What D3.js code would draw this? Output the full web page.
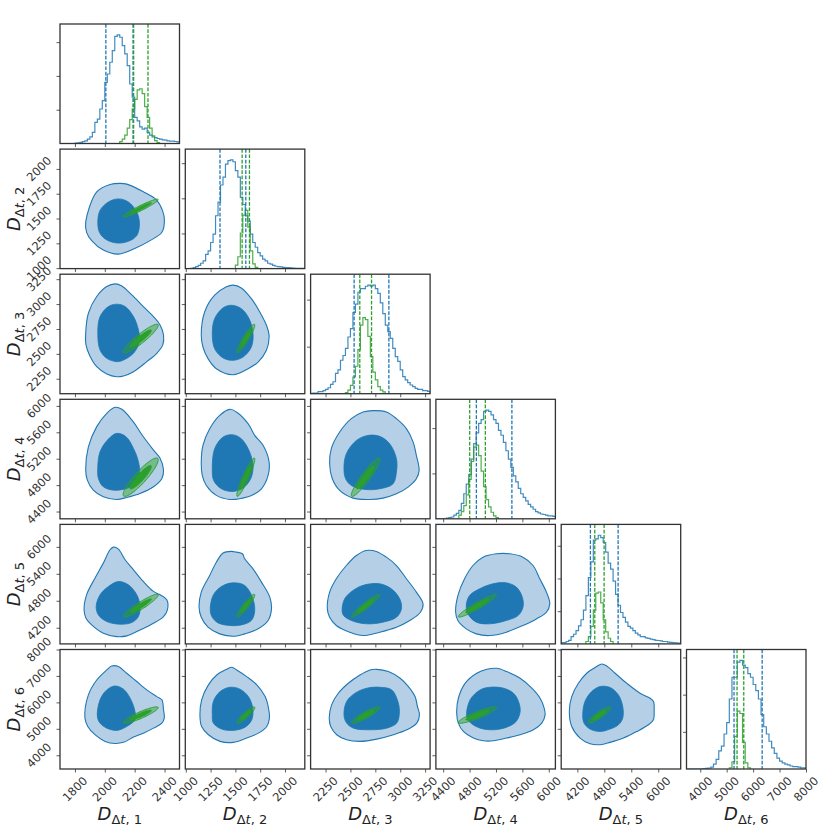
<!DOCTYPE html>
<html>
<head>
<meta charset="utf-8">
<script src="https://cdn.jsdelivr.net/npm/d3@7"></script>
<style>
  body { margin: 0; background: #fff; }
  svg text { font-family: "DejaVu Sans", sans-serif; }
</style>
</head>
<body>
<svg width="830" height="830"></svg>
<script>
// ---- data ----
const paramNames = ["1", "2", "3", "4", "5", "6"];
const domains = [[1700, 2500], [995, 2200], [2100, 3300], [4290, 6100], [3840, 6500], [3480, 8000]];
const tickValues = [
  [1800, 2000, 2200, 2400],
  [1000, 1250, 1500, 1750, 2000],
  [2250, 2500, 2750, 3000, 3250],
  [4400, 4800, 5200, 5600, 6000],
  [4200, 4800, 5400, 6000],
  [4000, 5000, 6000, 7000, 8000]
];

// 1D histograms (arbitrary count units)
const binStart = [1700, 1000, 2100, 4300, 3840, 3500];
const binWidth = [800 / 48, 25, 25, 37.5, 55, 100];
const histTickStep = [284, 296, 394, 380, 271, 308];
const blueHist = [
  [0,0,0,0,0,0,3,5,10,15,22,37,56,93,177,205,290,360,514,584,683,780,900,913,893,823,753,655,500,390,220,190,140,120,130,93,70,56,50,42,37,30,28,22,20,20,17,14],
  [0,0,3,8,17,28,45,65,120,150,220,290,445,560,704,770,880,910,915,900,825,770,600,540,445,400,290,220,180,135,107,80,65,45,37,28,20,17,14,11,8,8,6,5,3,3,3,3],
  [3,5,6,17,17,25,36,50,78,100,170,200,280,320,380,475,545,680,750,850,880,880,900,910,900,910,880,840,760,670,575,520,464,380,310,270,200,143,115,92,73,59,45,36,36,25,25,20],
  [0,0,0,0,5,10,15,30,45,70,130,210,290,370,500,630,720,800,830,900,910,900,870,830,800,740,700,640,570,500,430,360,310,255,210,180,150,120,100,80,60,50,40,36,30,25,25,20],
  [10,10,20,30,60,80,110,150,200,280,400,550,680,860,870,900,880,840,760,670,620,520,410,320,260,220,180,145,130,110,90,75,60,60,50,45,40,35,30,28,25,20,20,15,12,10,8,6],
  [0,0,0,0,0,0,3,5,8,15,40,80,150,190,290,385,580,760,760,885,900,860,840,790,760,700,650,580,450,350,290,230,175,130,90,65,50,40,35,25,20,20,15,10,10]
];
const greenFirstBin = [24, 20, 14, 9, 10, 16];
const greenHist = [
  [15,37,70,130,200,290,370,450,460,420,310,220,130,65,25,8],
  [30,100,300,450,490,350,150,40,10],
  [10,30,70,140,230,370,575,637,620,480,310,180,115,60,30,15],
  [30,60,110,200,330,480,600,617,530,400,270,160,100,55,25,10],
  [20,60,145,280,420,430,340,200,100,47,20],
  [10,60,270,480,460,220,50,10]
];

// 16% / 84% quantile lines
const blueQuantiles = [[2007, 2189], [1345, 1605], [2537, 2886], [4903, 5441], [4490, 5107], [5278, 6342]];
const greenQuantiles = [[2193, 2289], [1568, 1642], [2594, 2712], [4802, 5039], [4587, 4795], [5392, 5646]];

// green gaussian: means, sigmas, correlation (row i = y param, col j = x param)
const greenMu = [2240, 1605, 2653, 4920, 4690, 5520];
const greenSigma = [48, 37, 59, 119, 104, 127];
const greenRho = [
  [],
  [0.95],
  [0.92, 0.93],
  [0.90, 0.93, 0.93],
  [0.93, 0.93, 0.95, 0.95],
  [0.90, 0.90, 0.90, 0.90, 0.90]
];
const levels = [0.68, 0.95];

// blue 2D credible regions, key "yParam-xParam", points [x, y] in data units
const blueOuter = {
  "1-0": [[1872,1464],[1946,1769],[2035,1843],[2102,1854],[2147,1847],[2258,1769],[2348,1684],[2386,1582],[2399,1481],[2382,1361],[2303,1277],[2214,1208],[2091,1141],[1990,1182],[1912,1277],[1878,1361]],
  "2-0": [[1872,2707],[1890,2908],[1946,3076],[2013,3176],[2069,3203],[2114,3182],[2181,3092],[2258,2975],[2326,2874],[2370,2790],[2393,2690],[2388,2590],[2348,2506],[2281,2422],[2192,2321],[2125,2278],[2080,2270],[2013,2298],[1946,2371],[1897,2489],[1874,2590]],
  "3-0": [[1872,5028],[1890,5381],[1946,5686],[2013,5888],[2069,5979],[2114,5948],[2181,5787],[2258,5533],[2326,5331],[2370,5206],[2393,5028],[2382,4902],[2326,4775],[2236,4674],[2147,4614],[2080,4583],[1990,4623],[1923,4724],[1883,4876]],
  "4-0": [[1861,4598],[1878,4933],[1934,5303],[1990,5638],[2035,5936],[2058,5995],[2091,5949],[2136,5713],[2192,5489],[2258,5229],[2326,5008],[2370,4933],[2415,4822],[2419,4598],[2393,4449],[2326,4300],[2236,4151],[2147,4018],[2080,4002],[1990,4077],[1912,4263],[1874,4412]],
  "5-0": [[1867,5406],[1890,6282],[1946,6847],[2013,7227],[2046,7376],[2091,7354],[2147,7101],[2214,6789],[2281,6472],[2348,6219],[2382,6097],[2393,5717],[2398,5406],[2382,5216],[2326,5026],[2258,4836],[2192,4687],[2125,4488],[2069,4447],[2002,4524],[1934,4777],[1886,5089]],
  "2-1": [[1156,2687],[1190,2921],[1291,3089],[1410,3173],[1476,3190],[1560,3162],[1661,3055],[1746,2921],[1813,2788],[1840,2687],[1813,2536],[1729,2418],[1628,2351],[1476,2291],[1308,2351],[1224,2452],[1173,2569]],
  "3-1": [[1156,5150],[1173,5403],[1241,5655],[1342,5857],[1443,5948],[1510,5908],[1628,5731],[1695,5553],[1779,5403],[1840,5150],[1830,4947],[1763,4744],[1678,4654],[1543,4594],[1443,4583],[1308,4645],[1207,4795],[1166,4947]],
  "4-1": [[1134,4657],[1156,4992],[1241,5364],[1308,5659],[1376,5862],[1459,5899],[1510,5883],[1571,5846],[1594,5734],[1678,5510],[1763,5215],[1847,4880],[1864,4619],[1830,4361],[1729,4175],[1594,4063],[1493,4010],[1342,4063],[1224,4212],[1156,4433]],
  "5-1": [[1143,5469],[1160,6097],[1228,6662],[1312,7037],[1412,7250],[1463,7327],[1513,7227],[1614,6974],[1716,6662],[1800,6219],[1834,5781],[1843,5406],[1817,5089],[1732,4836],[1614,4651],[1479,4488],[1346,4524],[1228,4777],[1160,5089]],
  "3-2": [[2291,5124],[2308,5352],[2392,5604],[2509,5807],[2627,5908],[2726,5928],[2861,5908],[2962,5807],[3062,5655],[3130,5452],[3162,5251],[3190,5023],[3162,4896],[3079,4770],[2962,4668],[2827,4603],[2693,4583],[2526,4603],[2392,4719],[2318,4896]],
  "4-2": [[2268,4619],[2291,4992],[2358,5290],[2459,5585],[2560,5808],[2659,5920],[2760,5899],[2861,5771],[2962,5585],[3062,5290],[3162,4992],[3229,4731],[3203,4545],[3096,4361],[2962,4212],[2794,4101],[2627,4026],[2492,4101],[2358,4250],[2291,4433]],
  "5-2": [[2287,5406],[2311,5907],[2378,6346],[2479,6725],[2596,7037],[2696,7227],[2764,7250],[2881,7164],[2999,6911],[3082,6599],[3149,6219],[3173,5844],[3193,5528],[3166,5216],[3065,4963],[2932,4777],[2764,4610],[2596,4524],[2462,4587],[2362,4777],[2302,5089]],
  "4-3": [[4589,4545],[4623,4917],[4724,5290],[4851,5585],[5003,5771],[5206,5846],[5407,5846],[5609,5771],[5762,5585],[5863,5290],[5964,4992],[6015,4731],[5964,4545],[5812,4396],[5609,4250],[5356,4101],[5105,4026],[4902,4063],[4750,4175],[4623,4361]],
  "5-3": [[4605,5591],[4630,6156],[4732,6721],[4909,7101],[5061,7250],[5211,7290],[5363,7164],[5566,6911],[5743,6536],[5868,6156],[5930,5781],[5944,5528],[5894,5216],[5767,4963],[5566,4777],[5363,4651],[5161,4547],[5010,4547],[4858,4651],[4706,4899],[4630,5216]],
  "5-4": [[4021,5654],[4074,6219],[4223,6721],[4407,7101],[4630,7354],[4742,7453],[4853,7376],[5040,7101],[5300,6721],[5596,6346],[5819,6156],[5894,6034],[5909,5654],[5894,5342],[5782,5152],[5524,4899],[5226,4651],[4928,4488],[4705,4398],[4481,4434],[4260,4651],[4074,5089]]
};
const blueInner = {
  "1-0": [[1953,1464],[1968,1582],[2024,1667],[2091,1698],[2158,1667],[2214,1565],[2232,1447],[2214,1328],[2158,1270],[2080,1253],[2002,1294],[1964,1361]],
  "2-0": [[1953,2707],[1968,2874],[2024,2975],[2080,2999],[2136,2975],[2192,2874],[2225,2741],[2232,2623],[2192,2506],[2125,2438],[2080,2422],[2013,2455],[1968,2539]],
  "3-0": [[1953,5079],[1968,5305],[2018,5483],[2080,5584],[2142,5533],[2192,5356],[2225,5155],[2232,4978],[2202,4826],[2147,4750],[2058,4724],[1990,4775],[1957,4902]],
  "4-0": [[1942,4673],[1968,4933],[2024,5117],[2091,5229],[2158,5154],[2214,4933],[2236,4673],[2225,4449],[2181,4316],[2102,4279],[2013,4337],[1957,4486]],
  "5-0": [[1950,5464],[1968,6097],[2013,6472],[2069,6621],[2125,6499],[2170,6156],[2202,5654],[2202,5342],[2147,5089],[2080,4940],[2013,5026],[1968,5216]],
  "2-1": [[1267,2704],[1291,2854],[1376,2962],[1459,2988],[1560,2954],[1638,2854],[1678,2704],[1661,2569],[1577,2468],[1476,2435],[1376,2459],[1291,2552]],
  "3-1": [[1267,5048],[1291,5352],[1376,5528],[1470,5564],[1560,5503],[1644,5302],[1678,5074],[1654,4896],[1577,4755],[1476,4704],[1359,4744],[1281,4871]],
  "4-1": [[1247,4582],[1275,4917],[1359,5117],[1476,5199],[1594,5141],[1671,4880],[1695,4582],[1661,4361],[1560,4263],[1443,4250],[1325,4308],[1267,4433]],
  "5-1": [[1267,5528],[1278,6034],[1346,6409],[1446,6572],[1547,6499],[1631,6219],[1675,5781],[1665,5342],[1598,5062],[1479,4940],[1361,4990],[1278,5216]],
  "3-2": [[2435,5048],[2459,5276],[2560,5477],[2676,5553],[2794,5539],[2894,5427],[2962,5200],[2962,4998],[2928,4820],[2794,4744],[2644,4735],[2509,4795],[2452,4896]],
  "4-2": [[2416,4582],[2442,4843],[2526,5029],[2644,5154],[2794,5178],[2911,5066],[2995,4843],[3012,4619],[2962,4433],[2827,4324],[2659,4287],[2509,4361],[2432,4470]],
  "5-2": [[2435,5528],[2462,6034],[2546,6346],[2663,6536],[2797,6572],[2915,6472],[2971,6097],[2992,5654],[2965,5216],[2864,5026],[2696,4963],[2530,5026],[2462,5216]],
  "4-3": [[4750,4694],[4800,4917],[4952,5066],[5155,5178],[5356,5199],[5508,5104],[5599,4880],[5609,4657],[5534,4470],[5356,4361],[5105,4287],[4902,4324],[4775,4508]],
  "5-3": [[4757,5469],[4808,6097],[4960,6472],[5110,6572],[5313,6536],[5465,6346],[5541,6034],[5566,5654],[5506,5279],[5363,5062],[5161,4963],[4960,5026],[4819,5216]],
  "5-4": [[4319,5528],[4369,6034],[4518,6409],[4705,6599],[4928,6563],[5114,6282],[5210,5844],[5210,5406],[5114,5152],[4928,4990],[4705,4899],[4481,4990],[4348,5216]]
};

// ---- layout ----
const left0 = 60, top0 = 24, pitchX = 125.3, pitchY = 125.1, size = 119.5;
const blue = "#1f77b4", blueLight = "#b5d0e6", green = "#2ca02c";
const axisColor = "#333";

const svg = d3.select("svg");
svg.append("defs").append("clipPath").attr("id", "panel-clip")
  .append("rect").attr("width", size).attr("height", size);

const xOf = p => d3.scaleLinear().domain(domains[p]).range([0, size]);
const yOf = p => d3.scaleLinear().domain(domains[p]).range([size, 0]);

function stepPoints(p, heights, first) {
  const pts = [[binStart[p] + first * binWidth[p], 0]];
  heights.forEach((h, k) => {
    const e = binStart[p] + (first + k) * binWidth[p];
    pts.push([e, h], [e + binWidth[p], h]);
  });
  pts.push([binStart[p] + (first + heights.length) * binWidth[p], 0]);
  return pts;
}

function ellipse(i, j, level) {
  const r = Math.sqrt(-2 * Math.log(1 - level));
  const rho = greenRho[i][j];
  return d3.range(0, 360, 4).map(a => {
    const t = a * Math.PI / 180;
    return [
      greenMu[j] + r * greenSigma[j] * Math.cos(t),
      greenMu[i] + r * greenSigma[i] * (rho * Math.cos(t) + Math.sqrt(1 - rho * rho) * Math.sin(t))
    ];
  });
}

function drawTicks(g, xs, ys, yTicks) {
  g.append("g").attr("transform", `translate(0,${size})`)
    .call(d3.axisBottom(xs).tickValues(tickValues[xs.param]).tickSize(3.5).tickSizeOuter(0).tickFormat(""))
    .call(a => a.select(".domain").remove())
    .call(a => a.selectAll("line").attr("stroke", axisColor).attr("stroke-width", 0.8));
  g.append("g")
    .call(d3.axisLeft(ys).tickValues(yTicks).tickSize(3.5).tickSizeOuter(0).tickFormat(""))
    .call(a => a.select(".domain").remove())
    .call(a => a.selectAll("line").attr("stroke", axisColor).attr("stroke-width", 0.8));
}

for (let i = 0; i < 6; i++) {
  for (let j = 0; j <= i; j++) {
    const g = svg.append("g")
      .attr("transform", `translate(${left0 + j * pitchX},${top0 + i * pitchY})`);
    const x = xOf(j);
    x.param = j;
    const body = g.append("g").attr("clip-path", "url(#panel-clip)");

    if (i === j) {
      // 1D histogram
      const ymax = 1.1 * d3.max(blueHist[i]);
      const y = d3.scaleLinear().domain([0, ymax]).range([size, 0]);
      const line = d3.line().x(d => x(d[0])).y(d => y(d[1]));

      body.append("path").datum(stepPoints(i, blueHist[i], 0))
        .attr("d", line).attr("fill", "none")
        .attr("stroke", blue).attr("stroke-width", 1.2).attr("stroke-opacity", 0.85);
      body.append("path").datum(stepPoints(i, greenHist[i], greenFirstBin[i]))
        .attr("d", line).attr("fill", "none")
        .attr("stroke", green).attr("stroke-width", 1.2).attr("stroke-opacity", 0.85);

      const qLines = [
        ...blueQuantiles[i].map(v => ({ v, c: blue })),
        ...greenQuantiles[i].map(v => ({ v, c: green }))
      ];
      body.selectAll("line.q").data(qLines).enter().append("line")
        .attr("x1", d => x(d.v)).attr("x2", d => x(d.v))
        .attr("y1", 0).attr("y2", size)
        .attr("stroke", d => d.c).attr("stroke-width", 1.3)
        .attr("stroke-dasharray", "3.7,1.6");

      const hTicks = d3.range(histTickStep[i], ymax, histTickStep[i]);
      drawTicks(g, x, y, hTicks);
    } else {
      // 2D panel: x param j, y param i
      const y = yOf(i);
      const key = `${i}-${j}`;
      const shape = d3.line().x(d => x(d[0])).y(d => y(d[1]))
        .curve(d3.curveCatmullRomClosed.alpha(0.5));

      body.append("path").attr("d", shape(blueOuter[key]))
        .attr("fill", blueLight).attr("stroke", blue).attr("stroke-width", 1.1);
      body.append("path").attr("d", shape(blueInner[key]))
        .attr("fill", blue).attr("stroke", blue).attr("stroke-width", 0.8);

      const ell = d3.line().x(d => x(d[0])).y(d => y(d[1])).curve(d3.curveLinearClosed);
      body.append("path").attr("d", ell(ellipse(i, j, levels[1])))
        .attr("fill", green).attr("fill-opacity", 0.45)
        .attr("stroke", green).attr("stroke-width", 1);
      body.append("path").attr("d", ell(ellipse(i, j, levels[0])))
        .attr("fill", green).attr("stroke", green).attr("stroke-width", 0.6);

      drawTicks(g, x, y, tickValues[i]);

      // y tick labels on the first column
      if (j === 0) {
        g.selectAll("text.ytl").data(tickValues[i]).enter().append("text")
          .attr("transform", d => `translate(${-21},${y(d)}) rotate(-45)`)
          .attr("text-anchor", "middle").attr("dominant-baseline", "central")
          .attr("font-size", 11.5).attr("fill", axisColor)
          .text(d3.format("d"));
      }
    }

    // x tick labels on the bottom row
    if (i === 5) {
      g.selectAll("text.xtl").data(tickValues[j]).enter().append("text")
        .attr("transform", d => `translate(${x(d)},${size + 20}) rotate(-45)`)
        .attr("text-anchor", "middle").attr("dominant-baseline", "central")
        .attr("font-size", 11.5).attr("fill", axisColor)
        .text(d3.format("d"));
    }

    g.append("rect").attr("width", size).attr("height", size)
      .attr("fill", "none").attr("stroke", axisColor).attr("stroke-width", 1.3);
  }
}

// axis labels D_{Δt, n}
function mathLabel(sel, n) {
  sel.append("tspan").attr("font-style", "italic").attr("font-size", 18).text("D");
  sel.append("tspan").attr("font-size", 13).attr("dy", 4).text("\u0394");
  sel.append("tspan").attr("font-size", 13).attr("font-style", "italic").text("t");
  sel.append("tspan").attr("font-size", 13).text(", " + n);
}

paramNames.forEach((n, j) => {
  const t = svg.append("text")
    .attr("x", left0 + j * pitchX + size / 2).attr("y", 820)
    .attr("text-anchor", "middle").attr("fill", "#222");
  mathLabel(t, n);
});

paramNames.slice(1).forEach((n, k) => {
  const cy = top0 + (k + 1) * pitchY + size / 2;
  const t = svg.append("text")
    .attr("transform", `translate(19.5,${cy}) rotate(-90)`)
    .attr("text-anchor", "middle").attr("fill", "#222");
  mathLabel(t, n);
});
</script>
</body>
</html>
